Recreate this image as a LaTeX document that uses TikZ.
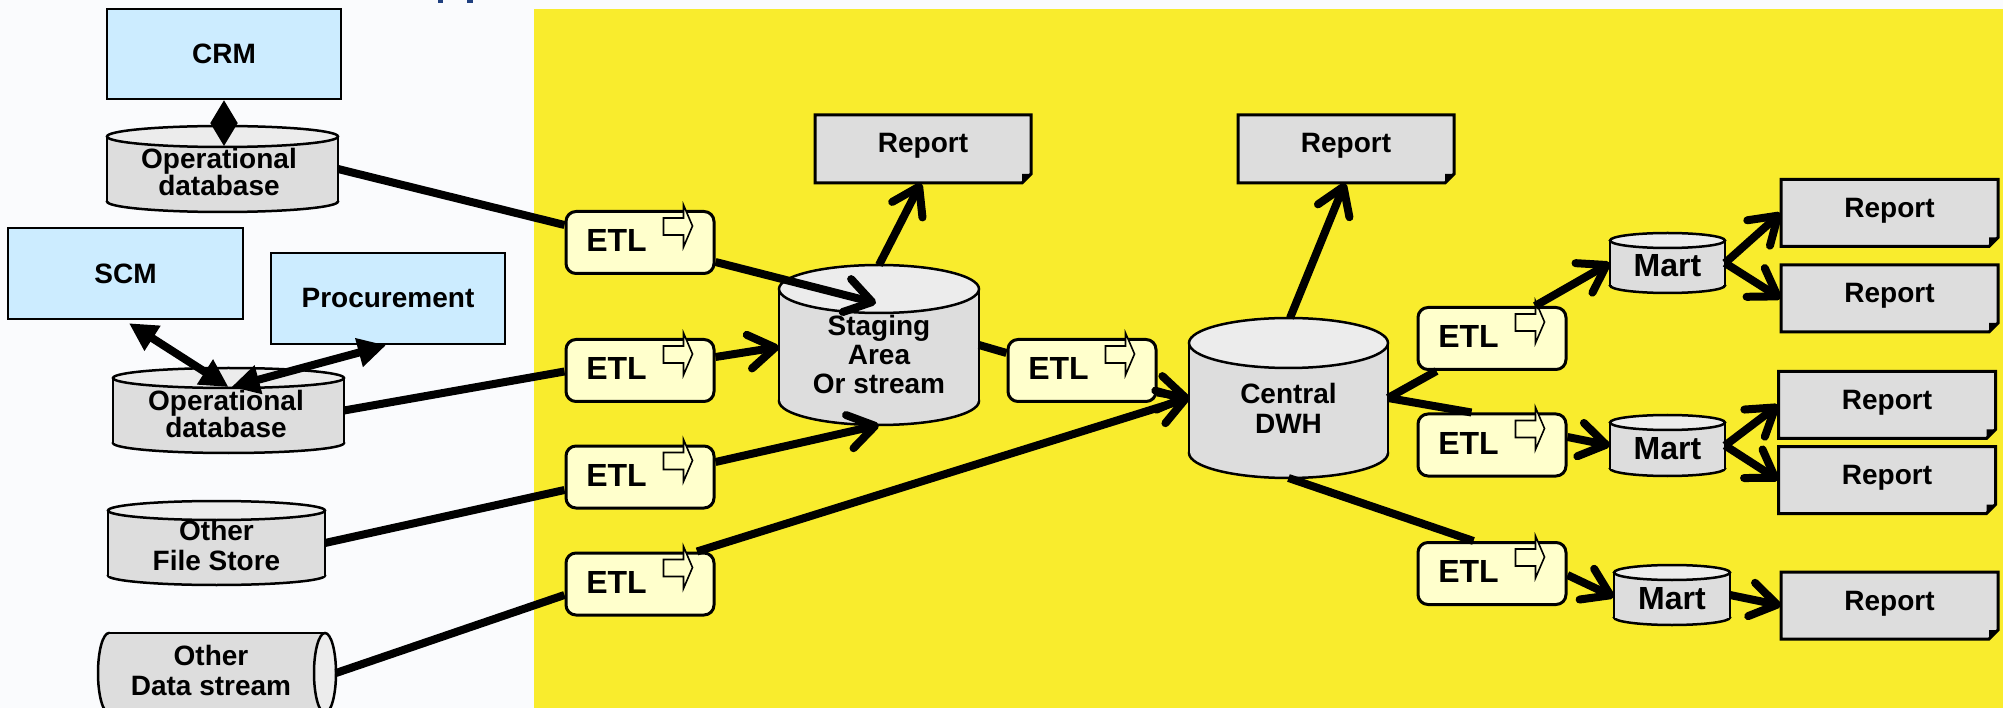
\documentclass[tikz,border=0pt]{standalone}
\usepackage{fontspec}
\setmainfont{Liberation Sans}
\usetikzlibrary{arrows.meta,calc}

\definecolor{bgc}{RGB}{250,251,253}
\definecolor{ylw}{RGB}{249,236,45}
\definecolor{lblue}{RGB}{204,236,255}
\definecolor{etlfill}{RGB}{255,255,204}
\definecolor{cylbody}{RGB}{221,221,221}
\definecolor{cyltop}{RGB}{236,236,236}
\definecolor{titleblue}{RGB}{31,63,127}

\tikzset{
  lbl/.style={font=\bfseries\fontsize{28}{30}\selectfont, inner sep=0pt, outer sep=0pt, align=center},
  etltxt/.style={font=\bfseries\fontsize{32}{34}\selectfont, inner sep=0pt, outer sep=0pt},
  appbox/.style={draw, line width=2.5pt, fill=lblue, inner sep=0pt,
    font=\bfseries\fontsize{28}{30}\selectfont, minimum width=234pt, minimum height=90pt},
  etlbox/.style={draw, line width=3pt, fill=etlfill, rounded corners=10pt,
    minimum width=148pt, minimum height=62pt, inner sep=0pt},
  ghost/.style={inner sep=0pt, outer sep=0pt},
  cylline/.style={line width=2.5pt},
  rptline/.style={line width=3pt, line join=miter},
  flow/.style={line width=8pt},
  arr/.style={flow, -{Straight Barb[length=26pt,width=34pt,round]}},
  darr/.style={flow, {Triangle[length=28pt,width=28pt]}-{Triangle[length=28pt,width=28pt]}},
  thinarr/.style={line width=2pt, {Triangle[length=23pt,width=27pt]}-{Triangle[length=23pt,width=27pt]}},
}

\newcommand\etlunit[3]{%
  \node[etlbox] (#1) at (#2,#3) {};
  \node[etltxt, anchor=base] (#1-t) at ($(#1.north west)+(52pt,-41.5pt)$) {ETL};
  \draw[line width=1.6pt, fill=etlfill, line join=miter]
    ($(#1.north west)+(99pt,-8pt)$) -- ($(#1.north west)+(119pt,-8pt)$) --
    ($(#1.north west)+(119pt,5pt)$) -- ($(#1.north west)+(128pt,-16pt)$) --
    ($(#1.north west)+(119pt,-37pt)$) -- ($(#1.north west)+(119pt,-25pt)$) --
    ($(#1.north west)+(99pt,-25pt)$) -- cycle;
}

\newcommand\rptunit[5]{%
  \node[ghost, minimum width=#4pt, minimum height=#5pt] (#1) at (#2,#3) {};
  \draw[rptline, fill=cylbody] (#1.north west) -- (#1.north east) --
    ($(#1.south east)+(0,9pt)$) -- ($(#1.south east)+(-9pt,0)$) -- (#1.south west) -- cycle;
  \fill ($(#1.south east)+(0,9pt)$) -- ($(#1.south east)+(-9pt,0)$) --
    ($(#1.south east)+(-9pt,9pt)$) -- cycle;
  \node[lbl, anchor=base] (#1-t) at ($(#1.north)+(0,-38pt)$) {Report};
}

\newcommand\cylunit[6]{%
  \filldraw[cylline, fill=cylbody] ({#2},{#3+#5/2-#6}) ellipse [x radius={#4*0.5pt}, y radius={#6*1pt}];
  \fill[cylbody] ({#2-#4/2},{#3-#5/2+#6}) rectangle ({#2+#4/2},{#3+#5/2-#6});
  \draw[cylline] ({#2-#4/2},{#3-#5/2+#6}) -- ({#2-#4/2},{#3+#5/2-#6})
                 ({#2+#4/2},{#3-#5/2+#6}) -- ({#2+#4/2},{#3+#5/2-#6});
  \filldraw[cylline, fill=cyltop] ({#2},{#3-#5/2+#6}) ellipse [x radius={#4*0.5pt}, y radius={#6*1pt}];
  \node[ghost, minimum width=#4pt, minimum height=#5pt] (#1) at (#2,#3) {};
}

\begin{document}
\begin{tikzpicture}[x=1pt,y=-1pt]
\useasboundingbox (0,0) rectangle (2003,708);
\clip (0,0) rectangle (2003,708);
\fill[bgc] (0,0) rectangle (2003,708);
\fill[ylw] (534,9) rectangle (2003,708);
\fill[titleblue] (438,0) rectangle (443,3);
\fill[titleblue] (467,0) rectangle (473,3);

% application boxes
\node[appbox] (CRM) at (224,54) {CRM};
\node[appbox, minimum width=235pt, minimum height=91pt] (SCM) at (125.5,273.5) {SCM};
\node[appbox, minimum height=91pt] (Procurement) at (388,298.5) {Procurement};

% sources
\cylunit{OpDB1}{222.5}{169}{231}{86}{10.5}
\node[lbl, font=\bfseries\fontsize{28}{27}\selectfont] (OpDB1-t) at (219,171.5) {Operational\\database};
\cylunit{OpDB2}{228.5}{410.5}{231}{85}{10}
\node[lbl, font=\bfseries\fontsize{28}{27}\selectfont] (OpDB2-t) at (226,414) {Operational\\database};
\cylunit{FileStore}{216.5}{543}{217}{84}{9.5}
\node[lbl] (FileStore-t) at (216.5,545) {Other\\File Store};

% data stream (horizontal cylinder)
\filldraw[cylline, fill=cylbody] (109,673) ellipse [x radius=11pt, y radius=40pt];
\fill[cylbody] (109,633) rectangle (325,713);
\draw[cylline] (109,633) -- (325,633) (109,713) -- (325,713);
\filldraw[cylline, fill=cyltop] (325,673) ellipse [x radius=11pt, y radius=40pt];
\node[ghost, minimum width=238pt, minimum height=80pt] (DataStream) at (217,673) {};
\node[lbl] (DataStream-t) at (211,670) {Other\\Data stream};

% ETL boxes
\etlunit{ETL1}{640}{242.5}
\etlunit{ETL2}{640}{370.5}
\etlunit{ETL3}{640}{477}
\etlunit{ETL4}{640}{584}
\etlunit{ETL5}{1082}{370.5}
\etlunit{ETL6}{1492}{338.5}
\etlunit{ETL7}{1492}{445}
\etlunit{ETL8}{1492}{573.5}

% staging, DWH, marts
\cylunit{Staging}{879}{345}{200}{160}{24}
\node[lbl, font=\bfseries\fontsize{28}{29}\selectfont] (Staging-t) at (879,354) {Staging\\Area\\Or stream};
\cylunit{DWH}{1288.5}{398}{199}{160}{25}
\node[lbl] (DWH-t) at (1288.5,408) {Central\\DWH};
\cylunit{Mart1}{1667.5}{263}{115}{60}{7.5}
\node[etltxt, anchor=base] (Mart1-t) at (1667.5,277) {Mart};
\cylunit{Mart2}{1667.5}{445.5}{115}{61}{7.5}
\node[etltxt, anchor=base] (Mart2-t) at (1667.5,459) {Mart};
\cylunit{Mart3}{1672}{595}{116}{60}{7.5}
\node[etltxt, anchor=base] (Mart3-t) at (1672,609) {Mart};

% reports
\rptunit{Report1}{923}{149}{216}{68}
\rptunit{Report2}{1346}{149}{216}{68}
\rptunit{Report3}{1889.5}{213}{217}{67}
\rptunit{Report4}{1889.5}{298.5}{217}{67}
\rptunit{Report5}{1887}{405}{217}{67}
\rptunit{Report6}{1887}{480}{217}{67}
\rptunit{Report7}{1889.5}{605.5}{217}{67}

% connectors: sources
\draw[thinarr] (CRM.south) -- ([xshift=1.5pt,yshift=-20pt]OpDB1.north);
\draw[darr] ([xshift=3.5pt,yshift=-3pt]SCM.south) -- ([yshift=-19pt]OpDB2.north);
\draw[darr] ([xshift=-2pt]Procurement.south) -- ([xshift=3pt,yshift=-19pt]OpDB2.north);
\draw[flow] (OpDB1.east) -- ([yshift=17.5pt]ETL1.west);
\draw[flow] (OpDB2.east) -- ([yshift=-1pt]ETL2.west);
\draw[flow] (FileStore.east) -- ([yshift=-13pt]ETL3.west);
\draw[flow] (DataStream.east) -- ([yshift=-11pt]ETL4.west);

% staging
\draw[arr] ([yshift=-19.5pt]ETL1.east) -- ([xshift=-3pt,yshift=-38pt]Staging.north);
\draw[arr] ([yshift=13.5pt]ETL2.east) -- ([yshift=-2pt]Staging.west);
\draw[arr] ([yshift=15pt]ETL3.east) -- (Staging.south);
\draw[arr] (Staging.north) -- ([xshift=-2pt]Report1.south);
\draw[flow] (Staging.east) -- ([yshift=17.5pt]ETL5.west);

% DWH
\draw[arr] ([yshift=-22pt]ETL5.east) -- (DWH.west);
\draw[arr] ([xshift=57pt]ETL4.north) -- (DWH.west);
\draw[arr] ([xshift=1.5pt]DWH.north) -- ([xshift=-1pt]Report2.south);
\draw[flow] (DWH.east) -- ([xshift=20pt]ETL6.south west);
\draw[flow] (DWH.east) -- ([xshift=55pt]ETL7.north west);
\draw[flow] (DWH.south) -- ([xshift=57pt]ETL8.north west);

% marts
\draw[arr] ([xshift=43pt]ETL6.north) -- (Mart1.west);
\draw[arr] ([yshift=8pt]ETL7.east) -- (Mart2.west);
\draw[arr] ([yshift=-1.5pt]ETL8.east) -- ([yshift=-2pt]Mart3.west);
\draw[arr] (Mart1.east) -- (Report3.west);
\draw[arr] (Mart1.east) -- (Report4.west);
\draw[arr] (Mart2.east) -- (Report5.west);
\draw[arr] (Mart2.east) -- (Report6.west);
\draw[arr] (Mart3.east) -- (Report7.west);
\end{tikzpicture}
\end{document}
